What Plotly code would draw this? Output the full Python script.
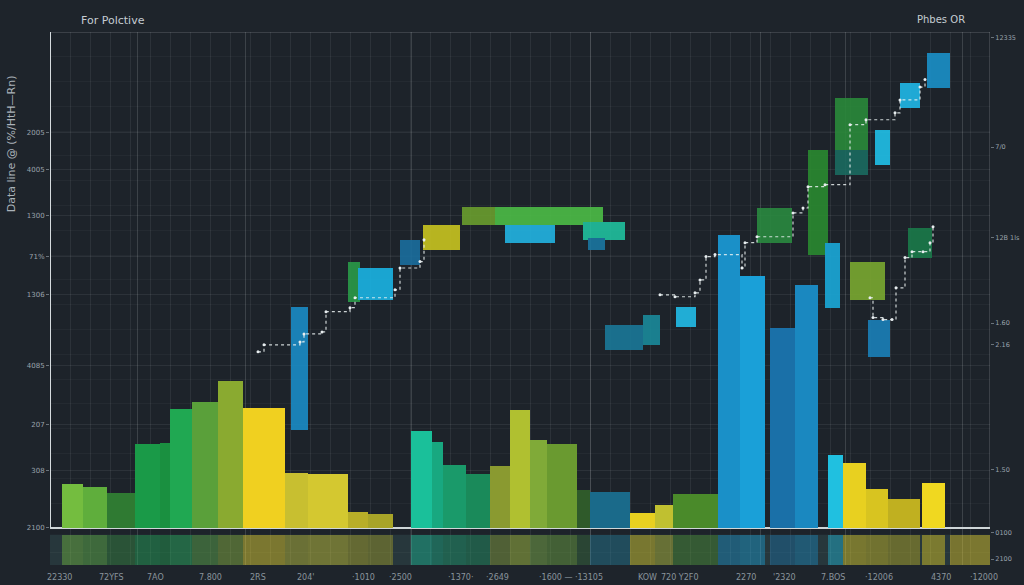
import plotly.graph_objects as go

# ground bars: period start / end and height
bar_start = [1.2, 3.3, 5.7, 8.5, 11.0, 12.0, 14.2, 16.8, 19.3, 23.5, 25.8, 29.8, 31.8,
             36.1, 38.2, 39.3, 41.6, 44.0, 46.0, 48.0, 49.7, 52.7, 54.0, 58.0, 60.5, 62.3,
             66.8, 69.0, 72.0, 74.5, 77.8, 79.3, 81.6, 83.8, 87.2]
bar_end = [3.3, 5.7, 8.5, 11.0, 12.0, 14.2, 16.8, 19.3, 23.5, 25.8, 29.8, 31.8, 34.3,
           38.2, 39.3, 41.6, 44.0, 46.0, 48.0, 49.7, 52.7, 54.0, 58.0, 60.5, 62.3, 66.8,
           69.0, 71.5, 74.5, 76.8, 79.3, 81.6, 83.8, 87.0, 89.5]
bar_value = [8.9, 8.3, 7.1, 16.9, 17.1, 24.0, 25.4, 29.6, 24.2, 11.1, 10.9, 3.2, 2.8,
             19.6, 17.3, 12.7, 10.9, 12.5, 23.8, 17.7, 16.9, 7.7, 7.3, 3.0, 4.6, 6.9,
             59.1, 50.8, 40.3, 49.0, 14.7, 13.1, 7.9, 5.8, 9.1]
bar_color = ["#74bd3f", "#5fae3c", "#2f7a32", "#1a9a48", "#1a9040", "#20a852", "#5aa03a",
             "#8aaa30", "#f0d020", "#c8bf30", "#d4c830", "#b8ae28", "#a8a428",
             "#1ac09a", "#18a880", "#1a9a6a", "#1a8a5a", "#8a9a30", "#b0c030", "#80aa38",
             "#6a9a30", "#2f5a2a", "#1a6a8a", "#e8d020", "#c0c030", "#4a8a2a",
             "#1a90c8", "#1aa0d8", "#1a70a8", "#1a88c0", "#20c0e0", "#e8d020", "#d8c420",
             "#c0b020", "#f0d820"]

# floating boxes: period start / end, low, high
box_start = [24.1, 29.8, 30.8, 35.0, 37.3, 41.2, 44.5, 45.5, 53.3, 53.8, 55.5, 59.3, 62.6,
             70.7, 75.8, 78.5, 78.5, 77.5, 80.0, 81.8, 82.5, 85.0, 87.7, 85.8]
box_end = [25.8, 31.0, 34.3, 37.0, 41.0, 44.5, 55.3, 50.5, 57.5, 55.5, 59.3, 61.0, 64.6,
           74.2, 77.8, 81.8, 81.8, 79.0, 83.5, 84.0, 84.0, 87.0, 90.0, 88.2]
box_low = [19.8, 45.6, 46.0, 53.0, 56.1, 61.1, 61.1, 57.5, 58.1, 56.1, 35.9, 36.9, 40.5,
           57.5, 55.1, 71.2, 76.2, 44.4, 46.0, 34.5, 73.2, 84.7, 88.7, 54.5]
box_high = [44.6, 53.7, 52.4, 58.1, 61.1, 64.7, 64.7, 61.1, 61.7, 58.5, 40.9, 43.0, 44.6,
            64.5, 76.2, 76.2, 86.7, 57.5, 53.7, 42.0, 80.3, 89.8, 95.8, 60.5]
box_color = ["#1a8cc6", "#2a9a48", "#1ab4e4", "#1a6e9e", "#c8c420", "#6a9e2e", "#4cbc46",
             "#22b4e2", "#20c09e", "#1a76a0", "#1a7898", "#1a8a9a", "#22bce8",
             "#2a8a40", "#2a8a30", "#1a6a60", "#2a8a3a", "#1aa8d8", "#7aa830", "#1a80b8",
             "#20c0e8", "#20b8e8", "#1a90c8", "#1a7a4a"]

# step lines
line_a_x = [20.8, 21.4, 25.0, 25.4, 27.2, 27.6, 30.0, 30.5, 34.5, 35.0, 37.0, 37.4]
line_a_y = [35.5, 36.9, 37.5, 39.1, 39.5, 43.6, 44.4, 46.4, 48.0, 52.4, 53.7, 58.1]
line_b_x = [61.0, 62.5, 64.5, 65.0, 65.6, 66.5, 69.2, 69.5, 70.7, 74.3, 75.3, 75.8, 77.5,
            80.0, 81.6, 84.5, 85.0, 87.0, 87.5]
line_b_y = [47.0, 46.6, 47.4, 50.0, 54.7, 55.1, 52.4, 57.5, 58.7, 63.5, 64.5, 68.8, 69.2,
            81.3, 82.3, 83.7, 86.3, 88.9, 90.4]
line_c_x = [82.0, 82.3, 83.3, 84.2, 84.6, 85.5, 86.2, 87.3, 88.0, 88.3]
line_c_y = [46.4, 42.4, 42.0, 42.0, 48.4, 54.5, 55.7, 55.7, 57.5, 60.7]

# extra reflections at the far right of the strip
extra_start = [90.0, 92.0]
extra_end = [92.0, 94.3]
extra_color = ["#e8c820", "#f0d020"]

# tick labels
left_vals = [79.7, 72.2, 62.9, 54.7, 47.0, 32.7, 20.8, 11.5, 0]
left_text = ["2005", "4005", "1300", "71%", "1306", "4085", "207", "308", "2100"]
right_vals = [98.8, 76.8, 58.5, 41.3, 36.9, 11.7, -1.0, -6.3]
right_text = ["12335", "7/0", "12B 1ls", "1.60", "2.16", "1.50", "0100", "2100"]
x_label_pos = [-0.5, 4.7, 9.5, 14.7, 19.8, 24.5, 30.0, 35.0, 41.0, 44.8, 52.1, 59.7,
               65.0, 70.8, 74.8, 79.7, 84.5, 90.3, 95.0]
x_label_text = ["22330", "72YFS", "7AO", "7.800", "2RS", "204'", "·1010", "·2500",
                "·1370·", "·2649", "·1600 — ·13105", "KOW", "720 Y2F0", "2270", "'2320",
                "7.BOS", "·12006", "4370", "·12000"]
accent_x = [8.7, 19.5, 36.1, 54.0, 71.0, 79.5, 91.2]

X_MIN, X_MAX = 0, 94
STRIP_TOP, STRIP_BOTTOM = -1.4, -7.5

def mid(a, b):
    return [(s + e) / 2 for s, e in zip(a, b)]

def span(a, b):
    return [e - s for s, e in zip(a, b)]

fig = go.Figure()

# mirrored reflections in the strip below the baseline
fig.add_trace(go.Bar(
    x=mid(bar_start, bar_end) + mid(extra_start, extra_end),
    width=span(bar_start, bar_end) + span(extra_start, extra_end),
    y=[STRIP_BOTTOM - STRIP_TOP] * (len(bar_start) + len(extra_start)),
    base=STRIP_TOP,
    marker=dict(color=bar_color + extra_color, line_width=0),
    opacity=0.42, hoverinfo="skip"))

fig.add_trace(go.Bar(
    x=mid(bar_start, bar_end), width=span(bar_start, bar_end), y=bar_value,
    marker=dict(color=bar_color, line_width=0), hoverinfo="skip"))

fig.add_trace(go.Bar(
    x=mid(box_start, box_end), width=span(box_start, box_end),
    y=[h - l for l, h in zip(box_low, box_high)], base=box_low,
    marker=dict(color=box_color, line_width=0), opacity=0.9, hoverinfo="skip"))

for lx, ly in [(line_a_x, line_a_y), (line_b_x, line_b_y), (line_c_x, line_c_y)]:
    fig.add_trace(go.Scatter(
        x=lx, y=ly, mode="lines+markers", line=dict(color="rgba(235,242,242,0.85)",
        width=1.2, dash="dot", shape="hv"), marker=dict(size=3, color="#e8eef0"),
        hoverinfo="skip"))

# right-hand axis carries its own labels
fig.add_trace(go.Scatter(x=[None], y=[None], yaxis="y2", showlegend=False))

grid = "rgba(255,255,255,0.07)"
fig.update_layout(
    width=1024, height=585, showlegend=False, barmode="overlay", bargap=0,
    paper_bgcolor="#1e242b", plot_bgcolor="#1d232a",
    margin=dict(l=50, r=34, t=32, b=20),
    font=dict(family="DejaVu Sans", color="#9aa3ab", size=7),
    xaxis=dict(range=[X_MIN, X_MAX], tickmode="array", tickvals=accent_x,
               showticklabels=False, showgrid=True, gridcolor="rgba(255,255,255,0.14)",
               gridwidth=1, zeroline=False, ticks="", automargin=False,
               minor=dict(tickmode="linear", tick0=0, dtick=2, showgrid=True,
                          gridcolor=grid)),
    yaxis=dict(range=[STRIP_BOTTOM, 100], tickmode="array", tickvals=left_vals,
               ticktext=left_text, showgrid=True, gridcolor=grid, zeroline=True,
               zerolinecolor="#cfd6d8", zerolinewidth=2, ticks="outside", ticklen=3,
               tickcolor="#6a737b", automargin=False,
               minor=dict(tickmode="linear", tick0=0, dtick=5, showgrid=True,
                          gridcolor="rgba(255,255,255,0.035)")),
    yaxis2=dict(range=[STRIP_BOTTOM, 100], overlaying="y", side="right",
                tickmode="array", tickvals=right_vals, ticktext=right_text,
                showgrid=False, zeroline=False, ticks="outside", ticklen=3,
                tickcolor="#6a737b", automargin=False, tickfont=dict(size=6.5)),
)

# strip background, axis frame
fig.add_shape(type="rect", xref="x", yref="y", x0=X_MIN, x1=X_MAX, y0=STRIP_BOTTOM,
              y1=STRIP_TOP, fillcolor="rgba(60,95,95,0.35)", line_width=0, layer="below")
fig.add_shape(type="line", xref="x", yref="y", x0=X_MIN, x1=X_MIN, y0=0, y1=100,
              line=dict(color="#d5dbde", width=2))
fig.add_shape(type="line", xref="x", yref="y", x0=X_MIN, x1=X_MAX, y0=100, y1=100,
              line=dict(color="rgba(200,210,215,0.35)", width=1))
fig.add_shape(type="line", xref="x", yref="y", x0=X_MAX, x1=X_MAX, y0=0, y1=100,
              line=dict(color="rgba(200,210,215,0.35)", width=1))

# period labels along the bottom (paper coords so the outer ones are not dropped)
for pos, txt in zip(x_label_pos, x_label_text):
    fig.add_annotation(x=(pos - X_MIN) / (X_MAX - X_MIN), y=-0.012, xref="paper",
                       yref="paper", text=txt, showarrow=False, yanchor="top",
                       font=dict(size=8, color="#8a949c"))

fig.add_annotation(x=0.031, y=1.038, xref="paper", yref="paper", text="For Polctive",
                   showarrow=False, font=dict(size=11, color="#c5ccd2"))
fig.add_annotation(x=0.976, y=1.038, xref="paper", yref="paper", text="Phbes OR",
                   showarrow=False, font=dict(size=10, color="#c5ccd2"))
fig.add_annotation(x=-0.04, y=0.79, xref="paper", yref="paper", yanchor="middle",
                   xanchor="center", text="Data line @ (%/HtH—Rn)", textangle=-90,
                   showarrow=False, font=dict(size=11, color="#aab2b9"))

fig.write_html("out.html", config={"displayModeBar": False},
               post_script="document.body.style.margin='0';"
                           "document.body.style.overflow='hidden';")
